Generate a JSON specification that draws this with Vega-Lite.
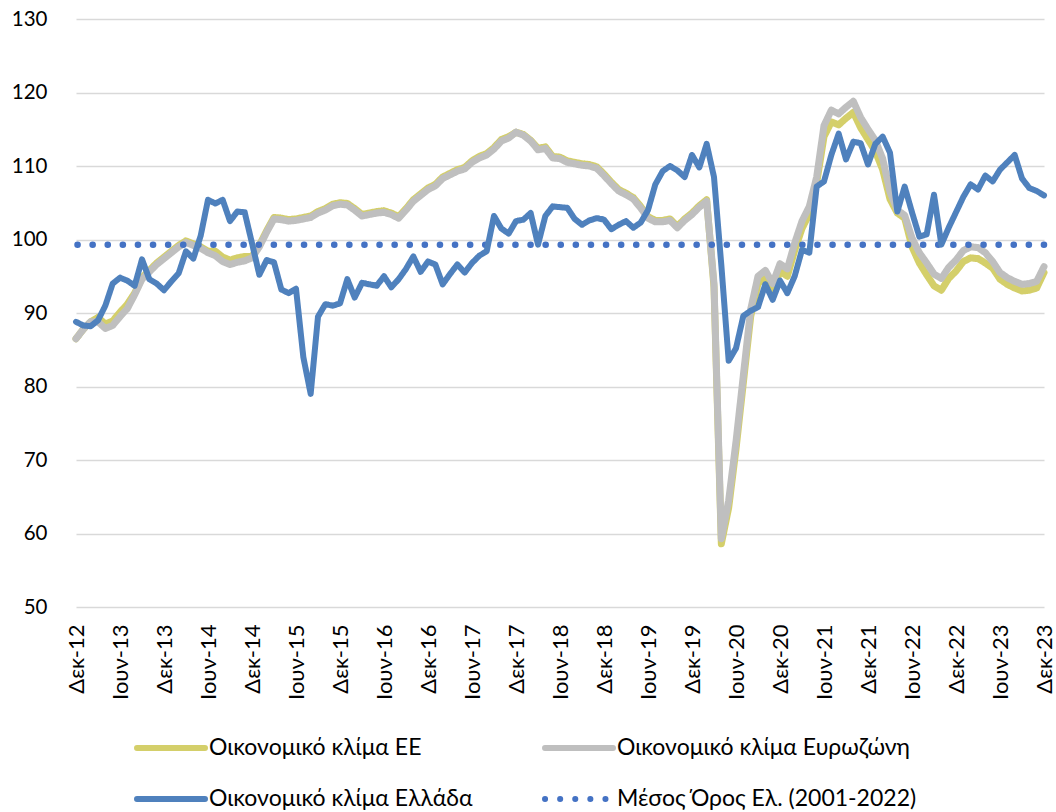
{
  "$schema": "https://vega.github.io/schema/vega-lite/v6.json",
  "width": 968,
  "height": 588,
  "autosize": {"type": "none"},
  "padding": {"left": 76, "top": 19, "right": 12, "bottom": 205},
  "background": "white",
  "config": {
    "font": "Lato",
    "view": {"stroke": null},
    "axis": {"labelFont": "Lato", "labelColor": "#000000", "labelFontSize": 20, "ticks": false, "domain": false},
    "legend": {"labelFont": "Lato", "labelColor": "#000000"}
  },
  "datasets": {
    "months": [
      {"m": "Δεκ-12", "ee": 86.5, "ez": 86.5, "gr": 88.8},
      {"m": "Ιαν-13", "ee": 87.8, "ez": 87.8, "gr": 88.3},
      {"m": "Φεβ-13", "ee": 88.8, "ez": 88.8, "gr": 88.2},
      {"m": "Μαρ-13", "ee": 89.4, "ez": 88.8, "gr": 89.0},
      {"m": "Απρ-13", "ee": 88.5, "ez": 87.9, "gr": 91.0},
      {"m": "Μαϊ-13", "ee": 88.9, "ez": 88.3, "gr": 94.0},
      {"m": "Ιουν-13", "ee": 90.1, "ez": 89.5, "gr": 94.8},
      {"m": "Ιουλ-13", "ee": 91.2, "ez": 90.6, "gr": 94.4},
      {"m": "Αυγ-13", "ee": 92.7, "ez": 92.5, "gr": 93.7},
      {"m": "Σεπ-13", "ee": 94.8, "ez": 94.6, "gr": 97.3},
      {"m": "Οκτ-13", "ee": 95.8, "ez": 95.6, "gr": 94.6},
      {"m": "Νοε-13", "ee": 96.8, "ez": 96.6, "gr": 94.0},
      {"m": "Δεκ-13", "ee": 97.6, "ez": 97.4, "gr": 93.1},
      {"m": "Ιαν-14", "ee": 98.4, "ez": 98.2, "gr": 94.3},
      {"m": "Φεβ-14", "ee": 99.2, "ez": 99.0, "gr": 95.4},
      {"m": "Μαρ-14", "ee": 99.8, "ez": 99.6, "gr": 98.4},
      {"m": "Απρ-14", "ee": 99.4, "ez": 99.2, "gr": 97.4},
      {"m": "Μαϊ-14", "ee": 99.0, "ez": 98.8, "gr": 100.5},
      {"m": "Ιουν-14", "ee": 98.4, "ez": 98.2, "gr": 105.4},
      {"m": "Ιουλ-14", "ee": 98.4, "ez": 97.8, "gr": 104.9},
      {"m": "Αυγ-14", "ee": 97.6, "ez": 97.0, "gr": 105.4},
      {"m": "Σεπ-14", "ee": 97.2, "ez": 96.6, "gr": 102.5},
      {"m": "Οκτ-14", "ee": 97.5, "ez": 96.9, "gr": 103.8},
      {"m": "Νοε-14", "ee": 97.7, "ez": 97.1, "gr": 103.7},
      {"m": "Δεκ-14", "ee": 97.7, "ez": 97.5, "gr": 99.5},
      {"m": "Ιαν-15", "ee": 99.2, "ez": 99.0, "gr": 95.2},
      {"m": "Φεβ-15", "ee": 101.2, "ez": 101.0, "gr": 97.2},
      {"m": "Μαρ-15", "ee": 103.0, "ez": 102.8, "gr": 96.9},
      {"m": "Απρ-15", "ee": 102.9, "ez": 102.7, "gr": 93.2},
      {"m": "Μαϊ-15", "ee": 102.7, "ez": 102.5, "gr": 92.7},
      {"m": "Ιουν-15", "ee": 102.8, "ez": 102.6, "gr": 93.3},
      {"m": "Ιουλ-15", "ee": 103.0, "ez": 102.8, "gr": 84.0},
      {"m": "Αυγ-15", "ee": 103.2, "ez": 103.0, "gr": 79.0},
      {"m": "Σεπ-15", "ee": 103.8, "ez": 103.6, "gr": 89.5},
      {"m": "Οκτ-15", "ee": 104.2, "ez": 104.0, "gr": 91.2},
      {"m": "Νοε-15", "ee": 104.8, "ez": 104.6, "gr": 91.0},
      {"m": "Δεκ-15", "ee": 105.0, "ez": 104.8, "gr": 91.3},
      {"m": "Ιαν-16", "ee": 104.9, "ez": 104.7, "gr": 94.6},
      {"m": "Φεβ-16", "ee": 104.2, "ez": 104.0, "gr": 92.1},
      {"m": "Μαρ-16", "ee": 103.4, "ez": 103.2, "gr": 94.1},
      {"m": "Απρ-16", "ee": 103.6, "ez": 103.4, "gr": 93.9},
      {"m": "Μαϊ-16", "ee": 103.8, "ez": 103.6, "gr": 93.7},
      {"m": "Ιουν-16", "ee": 103.9, "ez": 103.7, "gr": 95.0},
      {"m": "Ιουλ-16", "ee": 103.6, "ez": 103.4, "gr": 93.5},
      {"m": "Αυγ-16", "ee": 103.1, "ez": 102.9, "gr": 94.6},
      {"m": "Σεπ-16", "ee": 104.2, "ez": 104.0, "gr": 96.0},
      {"m": "Οκτ-16", "ee": 105.4, "ez": 105.2, "gr": 97.7},
      {"m": "Νοε-16", "ee": 106.2, "ez": 106.0, "gr": 95.6},
      {"m": "Δεκ-16", "ee": 107.0, "ez": 106.8, "gr": 97.0},
      {"m": "Ιαν-17", "ee": 107.5, "ez": 107.3, "gr": 96.6},
      {"m": "Φεβ-17", "ee": 108.5, "ez": 108.3, "gr": 93.9},
      {"m": "Μαρ-17", "ee": 109.0, "ez": 108.8, "gr": 95.3},
      {"m": "Απρ-17", "ee": 109.5, "ez": 109.3, "gr": 96.6},
      {"m": "Μαϊ-17", "ee": 109.8, "ez": 109.6, "gr": 95.5},
      {"m": "Ιουν-17", "ee": 110.7, "ez": 110.5, "gr": 96.8},
      {"m": "Ιουλ-17", "ee": 111.3, "ez": 111.1, "gr": 97.8},
      {"m": "Αυγ-17", "ee": 111.7, "ez": 111.5, "gr": 98.4},
      {"m": "Σεπ-17", "ee": 112.5, "ez": 112.3, "gr": 103.2},
      {"m": "Οκτ-17", "ee": 113.6, "ez": 113.4, "gr": 101.5},
      {"m": "Νοε-17", "ee": 114.0, "ez": 113.8, "gr": 100.8},
      {"m": "Δεκ-17", "ee": 114.6, "ez": 114.6, "gr": 102.5},
      {"m": "Ιαν-18", "ee": 114.3, "ez": 114.2, "gr": 102.7},
      {"m": "Φεβ-18", "ee": 113.5, "ez": 113.4, "gr": 103.6},
      {"m": "Μαρ-18", "ee": 112.4, "ez": 112.2, "gr": 99.3},
      {"m": "Απρ-18", "ee": 112.6, "ez": 112.4, "gr": 103.2},
      {"m": "Μαϊ-18", "ee": 111.3, "ez": 111.1, "gr": 104.5},
      {"m": "Ιουν-18", "ee": 111.2, "ez": 111.0, "gr": 104.4},
      {"m": "Ιουλ-18", "ee": 110.7, "ez": 110.5, "gr": 104.3},
      {"m": "Αυγ-18", "ee": 110.5, "ez": 110.3, "gr": 102.8},
      {"m": "Σεπ-18", "ee": 110.3, "ez": 110.1, "gr": 102.0},
      {"m": "Οκτ-18", "ee": 110.2, "ez": 110.0, "gr": 102.6},
      {"m": "Νοε-18", "ee": 109.9, "ez": 109.7, "gr": 102.9},
      {"m": "Δεκ-18", "ee": 108.9, "ez": 108.7, "gr": 102.7},
      {"m": "Ιαν-19", "ee": 107.8, "ez": 107.6, "gr": 101.4},
      {"m": "Φεβ-19", "ee": 106.8, "ez": 106.6, "gr": 102.0},
      {"m": "Μαρ-19", "ee": 106.3, "ez": 106.1, "gr": 102.5},
      {"m": "Απρ-19", "ee": 105.7, "ez": 105.5, "gr": 101.6},
      {"m": "Μαϊ-19", "ee": 104.5, "ez": 104.3, "gr": 102.3},
      {"m": "Ιουν-19", "ee": 103.1, "ez": 102.9, "gr": 104.0},
      {"m": "Ιουλ-19", "ee": 102.6, "ez": 102.4, "gr": 107.5},
      {"m": "Αυγ-19", "ee": 102.6, "ez": 102.4, "gr": 109.3},
      {"m": "Σεπ-19", "ee": 102.8, "ez": 102.6, "gr": 110.0},
      {"m": "Οκτ-19", "ee": 101.8, "ez": 101.6, "gr": 109.4},
      {"m": "Νοε-19", "ee": 102.8, "ez": 102.6, "gr": 108.5},
      {"m": "Δεκ-19", "ee": 103.6, "ez": 103.4, "gr": 111.5},
      {"m": "Ιαν-20", "ee": 104.6, "ez": 104.4, "gr": 109.8},
      {"m": "Φεβ-20", "ee": 105.4, "ez": 105.2, "gr": 113.0},
      {"m": "Μαρ-20", "ee": 93.5, "ez": 94.0, "gr": 108.5},
      {"m": "Απρ-20", "ee": 58.6, "ez": 59.3, "gr": 96.5},
      {"m": "Μαϊ-20", "ee": 63.5, "ez": 64.5, "gr": 83.5},
      {"m": "Ιουν-20", "ee": 71.5, "ez": 72.5, "gr": 85.2},
      {"m": "Ιουλ-20", "ee": 80.5, "ez": 81.5, "gr": 89.6},
      {"m": "Αυγ-20", "ee": 89.5, "ez": 90.5, "gr": 90.3},
      {"m": "Σεπ-20", "ee": 94.0, "ez": 95.0, "gr": 90.8},
      {"m": "Οκτ-20", "ee": 94.8, "ez": 95.8, "gr": 93.9},
      {"m": "Νοε-20", "ee": 92.8, "ez": 94.0, "gr": 91.8},
      {"m": "Δεκ-20", "ee": 95.7, "ez": 96.7, "gr": 94.4},
      {"m": "Ιαν-21", "ee": 95.0, "ez": 96.0, "gr": 92.7},
      {"m": "Φεβ-21", "ee": 98.5, "ez": 99.5, "gr": 95.0},
      {"m": "Μαρ-21", "ee": 101.5, "ez": 102.5, "gr": 98.6},
      {"m": "Απρ-21", "ee": 103.5, "ez": 104.5, "gr": 98.2},
      {"m": "Μαϊ-21", "ee": 107.7, "ez": 108.5, "gr": 107.2},
      {"m": "Ιουν-21", "ee": 114.0, "ez": 115.5, "gr": 107.9},
      {"m": "Ιουλ-21", "ee": 116.0, "ez": 117.6, "gr": 111.5},
      {"m": "Αυγ-21", "ee": 115.6, "ez": 117.1, "gr": 114.4},
      {"m": "Σεπ-21", "ee": 116.5, "ez": 118.0, "gr": 110.9},
      {"m": "Οκτ-21", "ee": 117.3, "ez": 118.8, "gr": 113.3},
      {"m": "Νοε-21", "ee": 115.2, "ez": 116.6, "gr": 113.1},
      {"m": "Δεκ-21", "ee": 113.6, "ez": 115.0, "gr": 110.2},
      {"m": "Ιαν-22", "ee": 112.0, "ez": 113.5, "gr": 113.0},
      {"m": "Φεβ-22", "ee": 109.5, "ez": 111.0, "gr": 114.0},
      {"m": "Μαρ-22", "ee": 105.5, "ez": 106.5, "gr": 111.8},
      {"m": "Απρ-22", "ee": 103.6, "ez": 104.0, "gr": 103.8},
      {"m": "Μαϊ-22", "ee": 102.9, "ez": 103.3, "gr": 107.2},
      {"m": "Ιουν-22", "ee": 99.0, "ez": 100.2, "gr": 103.7},
      {"m": "Ιουλ-22", "ee": 96.8, "ez": 98.2, "gr": 100.4},
      {"m": "Αυγ-22", "ee": 95.2, "ez": 96.8, "gr": 100.7},
      {"m": "Σεπ-22", "ee": 93.7, "ez": 95.3, "gr": 106.1},
      {"m": "Οκτ-22", "ee": 93.1, "ez": 94.7, "gr": 99.3},
      {"m": "Νοε-22", "ee": 94.7, "ez": 96.2, "gr": 101.6},
      {"m": "Δεκ-22", "ee": 95.7, "ez": 97.2, "gr": 103.7},
      {"m": "Ιαν-23", "ee": 97.0, "ez": 98.5, "gr": 105.8},
      {"m": "Φεβ-23", "ee": 97.5, "ez": 99.0, "gr": 107.5},
      {"m": "Μαρ-23", "ee": 97.4, "ez": 98.9, "gr": 106.8},
      {"m": "Απρ-23", "ee": 96.8, "ez": 98.2, "gr": 108.7},
      {"m": "Μαϊ-23", "ee": 96.1, "ez": 97.0, "gr": 107.9},
      {"m": "Ιουν-23", "ee": 94.6, "ez": 95.5, "gr": 109.5},
      {"m": "Ιουλ-23", "ee": 93.9, "ez": 94.8, "gr": 110.5},
      {"m": "Αυγ-23", "ee": 93.4, "ez": 94.3, "gr": 111.5},
      {"m": "Σεπ-23", "ee": 93.0, "ez": 93.9, "gr": 108.3},
      {"m": "Οκτ-23", "ee": 93.1, "ez": 94.0, "gr": 107.0},
      {"m": "Νοε-23", "ee": 93.4, "ez": 94.3, "gr": 106.6},
      {"m": "Δεκ-23", "ee": 95.5, "ez": 96.3, "gr": 106.0}
    ],
    "mean": [{"s": "avg", "v": 99.3}]
  },
  "layer": [
    {
      "data": {"name": "months"},
      "transform": [{"fold": ["ee", "ez", "gr"], "as": ["s", "v"]}, {"filter": "datum.s == 'ee'"}],
      "mark": {"type": "line", "strokeWidth": 7, "strokeCap": "round", "strokeJoin": "round"},
      "encoding": {
        "x": {"field": "m", "type": "ordinal", "sort": null, "title": null,
              "scale": {"type": "point", "padding": 0},
              "axis": {"labelAngle": -90, "labelPadding": 17, "labelFontSize": 22, "grid": false,
                       "values": ["Δεκ-12","Ιουν-13","Δεκ-13","Ιουν-14","Δεκ-14","Ιουν-15","Δεκ-15","Ιουν-16","Δεκ-16","Ιουν-17","Δεκ-17","Ιουν-18","Δεκ-18","Ιουν-19","Δεκ-19","Ιουν-20","Δεκ-20","Ιουν-21","Δεκ-21","Ιουν-22","Δεκ-22","Ιουν-23","Δεκ-23"]}},
        "y": {"field": "v", "type": "quantitative", "title": null,
              "scale": {"domain": [50, 130], "nice": false, "zero": false},
              "axis": {"values": [50, 60, 70, 80, 90, 100, 110, 120, 130], "labelPadding": 29, "labelFontSize": 20.5, "gridColor": "#D9D9D9", "gridWidth": 1.5}},
        "color": {"field": "s", "type": "nominal", "title": null,
                  "scale": {"domain": ["ee", "gr", "ez", "avg"], "range": ["#D4CF6A", "#4F81BD", "#BFBFBF", "#4472C4"]},
                  "legend": {"orient": "none", "legendX": 58, "legendY": 718, "columns": 2, "padding": 0,
                             "symbolType": "stroke", "symbolSize": 4624, "symbolStrokeWidth": 6, "clipHeight": 22,
                             "labelFontSize": 23, "labelOffset": 1, "labelLimit": 0, "columnPadding": 69, "rowPadding": 28,
                             "labelExpr": "datum.label == 'ee' ? 'Οικονομικό κλίμα ΕΕ' : datum.label == 'ez' ? 'Οικονομικό κλίμα Ευρωζώνη' : datum.label == 'gr' ? 'Οικονομικό κλίμα Ελλάδα' : 'Μέσος Όρος Ελ. (2001-2022)'",
                             "encode": {"symbols": {"update": {"strokeCap": {"value": "round"}}}}}},
        "strokeDash": {"field": "s", "type": "nominal", "title": null,
                       "scale": {"domain": ["ee", "gr", "ez", "avg"], "range": [[1, 0], [1, 0], [1, 0], [0.1, 15]]},
                       "legend": {"orient": "none", "legendX": 58, "legendY": 718, "columns": 2, "padding": 0,
                             "symbolType": "stroke", "symbolSize": 4624, "symbolStrokeWidth": 6, "clipHeight": 22,
                             "labelFontSize": 23, "labelOffset": 1, "labelLimit": 0, "columnPadding": 69, "rowPadding": 28,
                             "labelExpr": "datum.label == 'ee' ? 'Οικονομικό κλίμα ΕΕ' : datum.label == 'ez' ? 'Οικονομικό κλίμα Ευρωζώνη' : datum.label == 'gr' ? 'Οικονομικό κλίμα Ελλάδα' : 'Μέσος Όρος Ελ. (2001-2022)'",
                             "encode": {"symbols": {"update": {"strokeCap": {"value": "round"}}}}}}
      }
    },
    {
      "data": {"name": "months"},
      "transform": [{"fold": ["ee", "ez", "gr"], "as": ["s", "v"]}, {"filter": "datum.s == 'ez'"}],
      "mark": {"type": "line", "strokeWidth": 7, "strokeCap": "round", "strokeJoin": "round"},
      "encoding": {
        "x": {"field": "m", "type": "ordinal", "sort": null, "title": null},
        "y": {"field": "v", "type": "quantitative", "title": null},
        "color": {"field": "s", "type": "nominal", "title": null},
        "strokeDash": {"field": "s", "type": "nominal", "title": null}
      }
    },
    {
      "data": {"name": "mean"},
      "mark": {"type": "rule", "strokeWidth": 6.5, "strokeCap": "round"},
      "encoding": {
        "y": {"field": "v", "type": "quantitative", "title": null},
        "color": {"field": "s", "type": "nominal", "title": null},
        "strokeDash": {"field": "s", "type": "nominal", "title": null}
      }
    },
    {
      "data": {"name": "months"},
      "transform": [{"fold": ["ee", "ez", "gr"], "as": ["s", "v"]}, {"filter": "datum.s == 'gr'"}],
      "mark": {"type": "line", "strokeWidth": 6, "strokeCap": "round", "strokeJoin": "round"},
      "encoding": {
        "x": {"field": "m", "type": "ordinal", "sort": null, "title": null},
        "y": {"field": "v", "type": "quantitative", "title": null},
        "color": {"field": "s", "type": "nominal", "title": null},
        "strokeDash": {"field": "s", "type": "nominal", "title": null}
      }
    }
  ]
}
